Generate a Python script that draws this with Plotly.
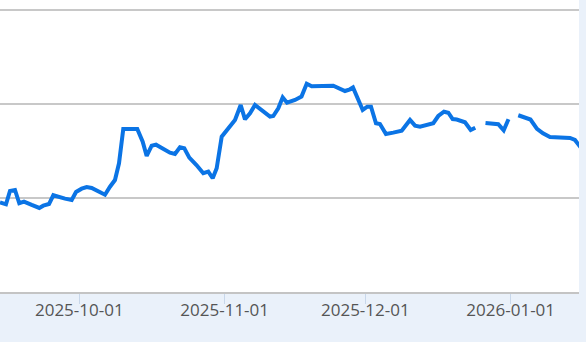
import pandas as pd
import plotly.graph_objects as go

# Days since 2025-10-01
days_since_oct1 = [
    -16.91, -15.63, -14.78, -13.71, -12.80, -11.79, -10.15, -8.53, -7.68, -6.46,
    -5.54, -4.27, -3.05, -1.62, -0.70, 0.51, 1.58, 2.64, 4.05, 5.48,
    6.55, 7.61, 8.47, 9.38, 12.37, 13.52, 14.37, 15.44, 16.36, 17.91,
    19.34, 20.41, 21.47, 22.39, 23.46, 24.99, 26.44, 27.51, 28.45, 29.30,
    30.37, 33.21, 34.42, 35.34, 36.41, 37.47, 40.67, 41.37, 42.44, 43.38,
    44.30, 46.01, 47.39, 48.50, 49.56, 54.17, 55.38, 56.66, 57.73, 58.37,
    60.44, 61.42, 62.21, 63.27, 64.12, 65.40, 66.96, 68.76, 70.53, 71.60,
    72.66, 75.50, 76.56, 77.78, 78.70, 79.63, 80.49, 82.26, 83.47, 84.45,
    85.50,
    86.63, 89.36, 90.51, 91.53,
    92.50,
    93.62, 96.22, 97.61, 98.89, 100.38, 103.22, 104.65, 105.71, 106.46, 107.20,
]

values = [
    109.54, 109.33, 110.74, 110.85, 109.44, 109.61, 109.26, 108.94, 109.18, 109.36,
    110.29, 110.07, 109.93, 109.79, 110.64, 110.99, 111.17, 111.06, 110.71, 110.35,
    111.20, 111.91, 113.69, 117.34, 117.34, 115.99, 114.47, 115.56, 115.67, 115.24,
    114.82, 114.68, 115.39, 115.29, 114.29, 113.51, 112.63, 112.80, 112.10, 113.16,
    116.52, 118.30, 119.89, 118.37, 119.01, 119.89, 118.65, 118.72, 119.54, 120.71,
    120.14, 120.43, 120.80, 122.15, 121.88, 121.94, 121.62, 121.38, 121.56, 121.76,
    119.36, 119.71, 119.71, 117.95, 117.87, 116.81, 116.95, 117.16, 118.30, 117.69,
    117.59, 117.95, 118.72, 119.18, 119.07, 118.40, 118.35, 118.05, 117.23, 117.48,
    None,
    117.98, 117.85, 117.20, 118.38,
    None,
    118.80, 118.35, 117.36, 116.88, 116.49, 116.38, 116.38, 116.17, 115.64, 115.21,
]

tick_dates = ["2025-10-01", "2025-11-01", "2025-12-01", "2026-01-01"]
grid_values = [110, 120, 130]
x_window_days = [-16.91, 106.57]
y_window = [100, 131.06]

origin = pd.Timestamp("2025-10-01")
dates = origin + pd.to_timedelta(days_since_oct1, unit="D")
x_range = [origin + pd.Timedelta(days=d) for d in x_window_days]

fig = go.Figure(
    go.Scatter(
        x=dates,
        y=values,
        mode="lines",
        line=dict(color="#0b74e5", width=4),
        connectgaps=False,
        hoverinfo="skip",
    )
)

fig.update_layout(
    width=586,
    height=342,
    margin=dict(l=0, r=7, t=0, b=50, pad=0),
    paper_bgcolor="#eaf1fa",
    plot_bgcolor="#ffffff",
    showlegend=False,
    font=dict(family="Open Sans", size=17, color="#555555"),
)

fig.update_xaxes(
    type="date",
    range=x_range,
    tickvals=tick_dates,
    ticktext=tick_dates,
    showgrid=False,
    ticks="outside",
    ticklen=10,
    tickwidth=1,
    tickcolor="#c8d7ea",
    ticklabelstandoff=-8,
    showline=True,
    linecolor="#c4c4c4",
    linewidth=2,
    tickfont=dict(family="Open Sans", size=17, color="#555555"),
    zeroline=False,
)

fig.update_yaxes(
    range=y_window,
    tickvals=grid_values,
    showticklabels=False,
    showgrid=True,
    gridcolor="#c8c8c8",
    gridwidth=2,
    zeroline=False,
    showline=False,
)

fig.write_html("out.html")
